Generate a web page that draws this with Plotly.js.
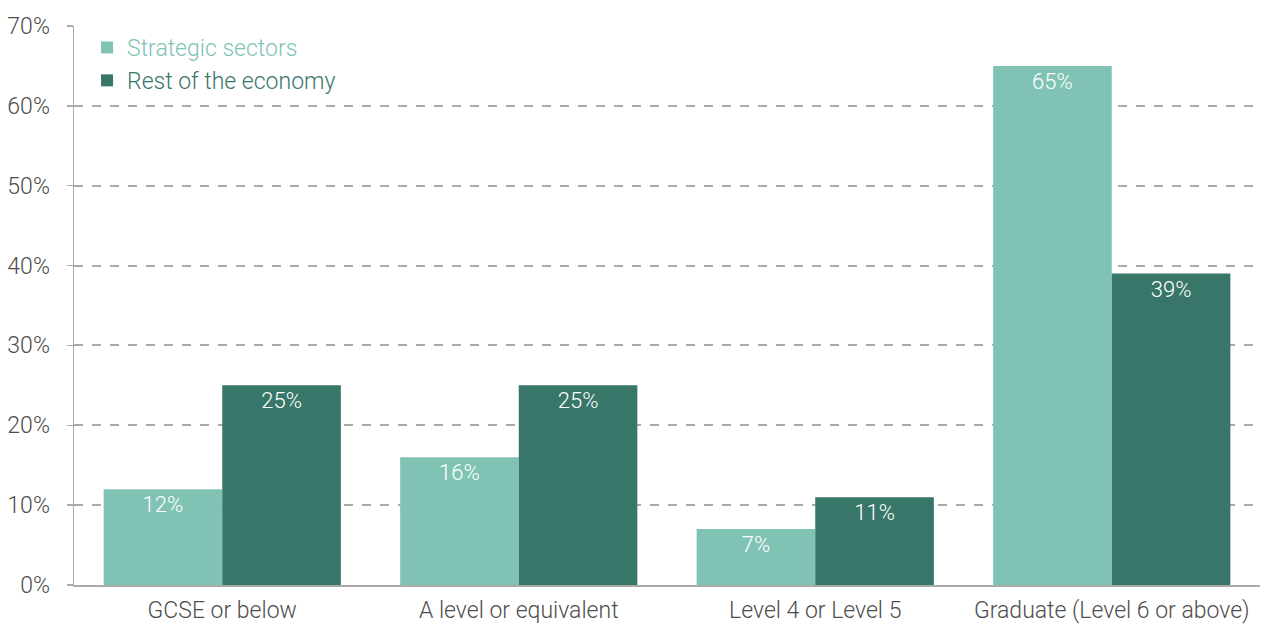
<!DOCTYPE html>
<html><head><meta charset="utf-8">
<script src="https://cdn.plot.ly/plotly-3.0.1.min.js"></script>
<style>body{margin:0;background:#fff}#c{width:1267px;height:624px}</style>
</head><body><div id="c"></div>
<script>
const categories = ["GCSE or below", "A level or equivalent", "Level 4 or Level 5", "Graduate (Level 6 or above)"];
const strategic = [12, 16, 7, 65];
const rest = [25, 25, 11, 39];
const tickVals = [0, 10, 20, 30, 40, 50, 60, 70];
const tickText = ["0%", "10%", "20%", "30%", "40%", "50%", "60%", "70%"];
const cLight = "#80c3b5", cDark = "#38766a";
const fontFam = "Roboto, 'Open Sans', sans-serif";
function tr(vals, name, color) {
  return {type: "bar", x: categories, y: vals,
    name: '<span style="color:' + color + '">' + name + '</span>',
    marker: {color: color},
    text: vals.map(v => v + "%"), textposition: "inside", insidetextanchor: "end",
    textfont: {color: "#ffffff", size: 22, family: fontFam, weight: 300},
    constraintext: "none", cliponaxis: false, hoverinfo: "skip"};
}
const data = [tr(strategic, "Strategic sectors", cLight), tr(rest, "Rest of the economy", cDark)];
const layout = {
  width: 1267, height: 624,
  margin: {l: 74, r: 7, t: 26, b: 39},
  paper_bgcolor: "#fff", plot_bgcolor: "#fff",
  barmode: "group", bargap: 0.2, bargroupgap: 0,
  font: {family: fontFam, size: 23, color: "#4d4d4d", weight: 300},
  showlegend: true,
  legend: {x: 0.011, y: 1.0, xanchor: "left", yanchor: "top", bgcolor: "rgba(0,0,0,0)",
    font: {size: 23, family: fontFam, weight: 300}, itemwidth: 30, tracegroupgap: 0},
  xaxis: {type: "category", showgrid: false, showline: true, linecolor: "#aaa", linewidth: 1.5,
    ticks: "", tickfont: {size: 23, color: "#4d4d4d"}, ticklabelstandoff: 4},
  yaxis: {range: [0, 70], tickvals: tickVals, ticktext: tickText, showgrid: true,
    gridcolor: "#aaa", gridwidth: 2, griddash: "dash", showline: true, linecolor: "#aaa",
    linewidth: 1.5, ticks: "outside", ticklen: 6, tickcolor: "#aaa", tickwidth: 1.5,
    zeroline: false, tickfont: {size: 23, color: "#4d4d4d"}, ticklabelstandoff: 12, fixedrange: true}
};
Plotly.newPlot("c", data, layout, {displayModeBar: false, staticPlot: true});
</script></body></html>
